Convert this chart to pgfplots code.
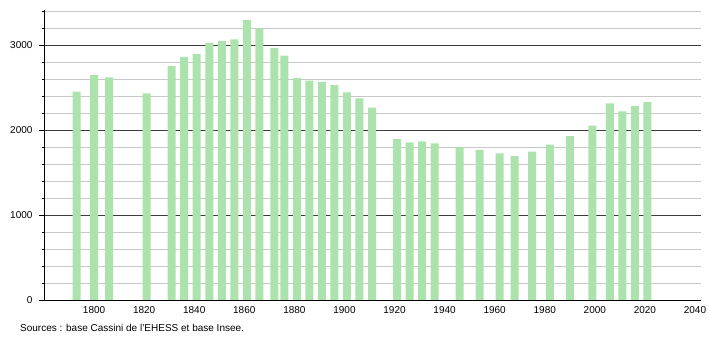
\documentclass[border=0pt]{standalone}
\usepackage{pgfplots}
\pgfplotsset{compat=1.18}
\usepackage{fontspec}
\setmainfont{Liberation Sans}
\definecolor{barg}{RGB}{172,226,172}
\definecolor{majg}{RGB}{60,60,60}
\definecolor{ming}{RGB}{200,200,200}
\begin{document}
\begin{tikzpicture}[x=1pt,y=1pt]
\useasboundingbox (0,0) rectangle (710,340);
\begin{axis}[
  at={(44pt,40pt)}, anchor=south west,
  scale only axis, width=657pt, height=290pt,
  xmin=1780, xmax=2042.4, ymin=0, ymax=3412,
  axis x line=bottom, axis y line=left,
  axis line style={-, black, line width=0.8pt},
  xtick={1800,1820,...,2040},
  major x tick style={draw=none},
  ytick={0,1000,2000,3000},
  minor ytick={200,400,...,3400},
  tick align=outside,
  major tick length=5pt, minor tick length=2pt,
  ymajorgrids, yminorgrids,
  major grid style={majg, line width=0.6pt},
  minor grid style={ming, line width=0.6pt},
  every tick/.style={black, line width=0.6pt},
  tick label style={font=\fontsize{10}{12}\selectfont},
  /pgf/number format/assume math mode=true,
  /pgf/number format/1000 sep={},
  xticklabel style={yshift=2pt},
  yticklabel style={xshift=-3pt},
  clip=false,
]
\addplot[ybar, bar width=8pt, fill=barg, draw=none] coordinates {
(1793,2451) (1800,2647) (1806,2620) (1821,2431) (1831,2753) (1836,2859)
(1841,2894) (1846,3024) (1851,3047) (1856,3067) (1861,3294) (1866,3196)
(1872,2965) (1876,2875) (1881,2612) (1886,2580) (1891,2565) (1896,2529)
(1901,2443) (1906,2373) (1911,2263) (1921,1894) (1926,1855) (1931,1867)
(1936,1843) (1946,1796) (1954,1765) (1962,1725) (1968,1694) (1975,1745)
(1982,1827) (1990,1929) (1999,2051) (2006,2314) (2011,2219) (2016,2282)
(2021,2329)
};
\end{axis}
\node[anchor=west, font=\fontsize{10}{12}\selectfont, inner sep=0pt] at (20,12) {Sources : base Cassini de l'EHESS et base Insee.};
\end{tikzpicture}
\end{document}
